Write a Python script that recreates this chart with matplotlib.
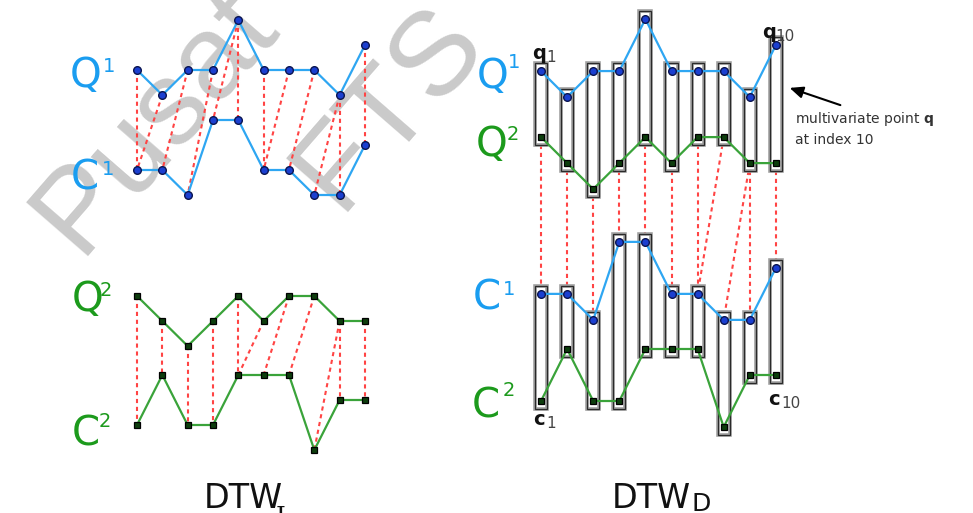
import numpy as np
import matplotlib
matplotlib.use('Agg')
import matplotlib.pyplot as plt
from matplotlib.patches import Rectangle

matplotlib.rcParams.update({'font.family': 'DejaVu Sans',
                            'mathtext.fontset': 'custom',
                            'mathtext.rm': 'DejaVu Serif',
                            'mathtext.sf': 'DejaVu Sans',
                            'mathtext.bf': 'DejaVu Sans:bold'})

W, H = 973, 513

# levels of the two query and two candidate series (10 time steps)
Q1 = [2, 1, 2, 2, 4, 2, 2, 2, 1, 3]
Q2 = [2, 1, 0, 1, 2, 1, 2, 2, 1, 1]
C1 = [1, 1, 0, 3, 3, 1, 1, 0, 0, 2]
C2 = [1, 3, 1, 1, 3, 3, 3, 0, 2, 2]

# warping paths as (query index, candidate index)
path_I1 = [(0, 0), (1, 0), (2, 1), (3, 2), (4, 3), (4, 4), (5, 5), (6, 5), (7, 6), (8, 7), (8, 8), (9, 9)]
path_I2 = [(0, 0), (1, 1), (2, 2), (3, 3), (4, 4), (5, 4), (6, 5), (7, 6), (8, 7), (8, 8), (9, 9)]
path_D = [(0, 0), (1, 1), (2, 2), (3, 3), (4, 4), (5, 5), (6, 6), (7, 6), (8, 7), (8, 8), (9, 9)]

blue_line = '#2ea6f2'
blue_lab = '#1a9df0'
green_line = '#3aa33a'
green_lab = '#1c9a1c'
red = '#ff4444'

fig = plt.figure(figsize=(W / 100, H / 100), dpi=100)


def fx(x):
    return x / W


def fy(y):
    return 1 - y / H


def panel_axes(x0, dx, y0, dy):
    # full-figure axes: index i sits at pixel x0 + i*dx, level 0 at pixel row y0
    ax = fig.add_axes([0, 0, 1, 1])
    ax.set_xlim(-x0 / dx, (W - x0) / dx)
    ax.set_ylim(-(H - y0) / dy, y0 / dy)
    ax.axis('off')
    ax.patch.set_alpha(0)
    return ax


def draw_series(ax, vals, off, kind):
    x = np.arange(len(vals))
    y = np.array(vals) + off
    if kind == 'blue':
        ax.plot(x, y, color=blue_line, lw=1.6, zorder=3, solid_capstyle='round')
        ax.plot(x, y, 'o', ms=5.5, mfc='#1b3fd0', mec='#0a1450', mew=1.0, zorder=4)
    else:
        ax.plot(x, y, color=green_line, lw=1.6, zorder=3)
        ax.plot(x, y, 's', ms=4.5, mfc='#0d3d0d', mec='#000000', mew=0.9, zorder=4)


def draw_links(ax, a, oa, b, ob, path):
    for i, j in path:
        ax.plot([i, j], [a[i] + oa, b[j] + ob], color=red, lw=1.5,
                linestyle=(0, (2, 1.8)), zorder=1)


def draw_boxes(ax, top, otop, bot, obot, hw=0.23, pad=0.3):
    for i in range(len(top)):
        y_lo = bot[i] + obot - pad
        y_hi = top[i] + otop + pad
        ax.add_patch(Rectangle((i - hw, y_lo), 2 * hw, y_hi - y_lo, facecolor='white',
                               edgecolor='#a0a0a0', lw=2.6, zorder=2))
        ax.add_patch(Rectangle((i - hw, y_lo), 2 * hw, y_hi - y_lo, facecolor='none',
                               edgecolor='#2a2a2a', lw=0.9, zorder=2.1))


# watermark
for txt, x, y in [('Pusat', 78, 256), ('FTS', 338, 212)]:
    fig.text(fx(x), fy(y), txt, fontsize=86, family='Liberation Sans', color='#cacaca',
             rotation=49, rotation_mode='anchor', ha='left', va='baseline', zorder=-5)

# DTW_I panel
axL = panel_axes(137, 25.33, 450, 25)
oQ1, oC1, oQ2, oC2 = 13.2, 10.2, 4.16, 0.0
draw_links(axL, Q1, oQ1, C1, oC1, path_I1)
draw_links(axL, Q2, oQ2, C2, oC2, path_I2)
draw_series(axL, Q1, oQ1, 'blue')
draw_series(axL, C1, oC1, 'blue')
draw_series(axL, Q2, oQ2, 'green')
draw_series(axL, C2, oC2, 'green')

# DTW_D panel
axR = panel_axes(541, 26.1, 427, 26)
rQ1, rQ2, rC1, rC2 = 11.69, 9.15, 4.12, 0.0
draw_links(axR, Q2, rQ2, C1, rC1, path_D)
draw_boxes(axR, Q1, rQ1, Q2, rQ2)
draw_boxes(axR, C1, rC1, C2, rC2)
draw_series(axR, Q1, rQ1, 'blue')
draw_series(axR, Q2, rQ2, 'green')
draw_series(axR, C1, rC1, 'blue')
draw_series(axR, C2, rC2, 'green')

# series labels: (letter, sup, x, baseline, sup x, sup top, colour)
labels = [('Q', '1', 70, 87, 103, 57, blue_lab), ('C', '1', 71, 190, 102, 160, blue_lab),
          ('Q', '2', 72, 311, 100, 281, green_lab), ('C', '2', 72, 445, 99, 412, green_lab),
          ('Q', '1', 477, 88, 508, 53, blue_lab), ('Q', '2', 476, 156, 507, 125, green_lab),
          ('C', '1', 473, 310, 503, 280, blue_lab), ('C', '2', 472, 418, 503, 381, green_lab)]
for let, sup, x, yb, sx, sy, col in labels:
    fig.text(fx(x), fy(yb), let, fontsize=29, color=col, ha='left', va='baseline')
    fig.text(fx(sx), fy(sy), sup, fontsize=14, color=col, ha='left', va='top')

# point labels
for let, sub, x, yb, sx in [('q', '1', 532, 59, 546), ('q', '10', 762, 38, 775),
                            ('c', '1', 533, 425, 546), ('c', '10', 768, 405, 781)]:
    fig.text(fx(x), fy(yb), let, fontsize=14, weight='bold', color='#111111', ha='left', va='baseline')
    fig.text(fx(sx), fy(yb + 3), sub, fontsize=11, color='#444444', ha='left', va='baseline')

# annotation
fig.text(fx(795), fy(119), r'multivariate point $\mathbf{q}$', fontsize=10, color='#333333',
         ha='left', va='center')
fig.text(fx(795), fy(140), 'at index 10', fontsize=10, color='#333333', ha='left', va='center')
axR.annotate('', xy=(fx(787), fy(87)), xycoords='figure fraction',
             xytext=(fx(843), fy(106)), textcoords='figure fraction',
             arrowprops=dict(arrowstyle='-|>,head_length=0.8,head_width=0.35', color='black', lw=1.5))

# panel titles
fig.text(fx(204), fy(508), 'DTW', fontsize=24, ha='left', va='baseline', color='#111111')
fig.text(fx(276), fy(506), 'I', fontsize=18, family='DejaVu Serif', ha='left', va='top', color='#111111')
fig.text(fx(612), fy(508), 'DTW', fontsize=24, ha='left', va='baseline', color='#111111')
fig.text(fx(692), fy(492), 'D', fontsize=18, ha='left', va='top', color='#111111')

plt.savefig('out.png', dpi=100)
